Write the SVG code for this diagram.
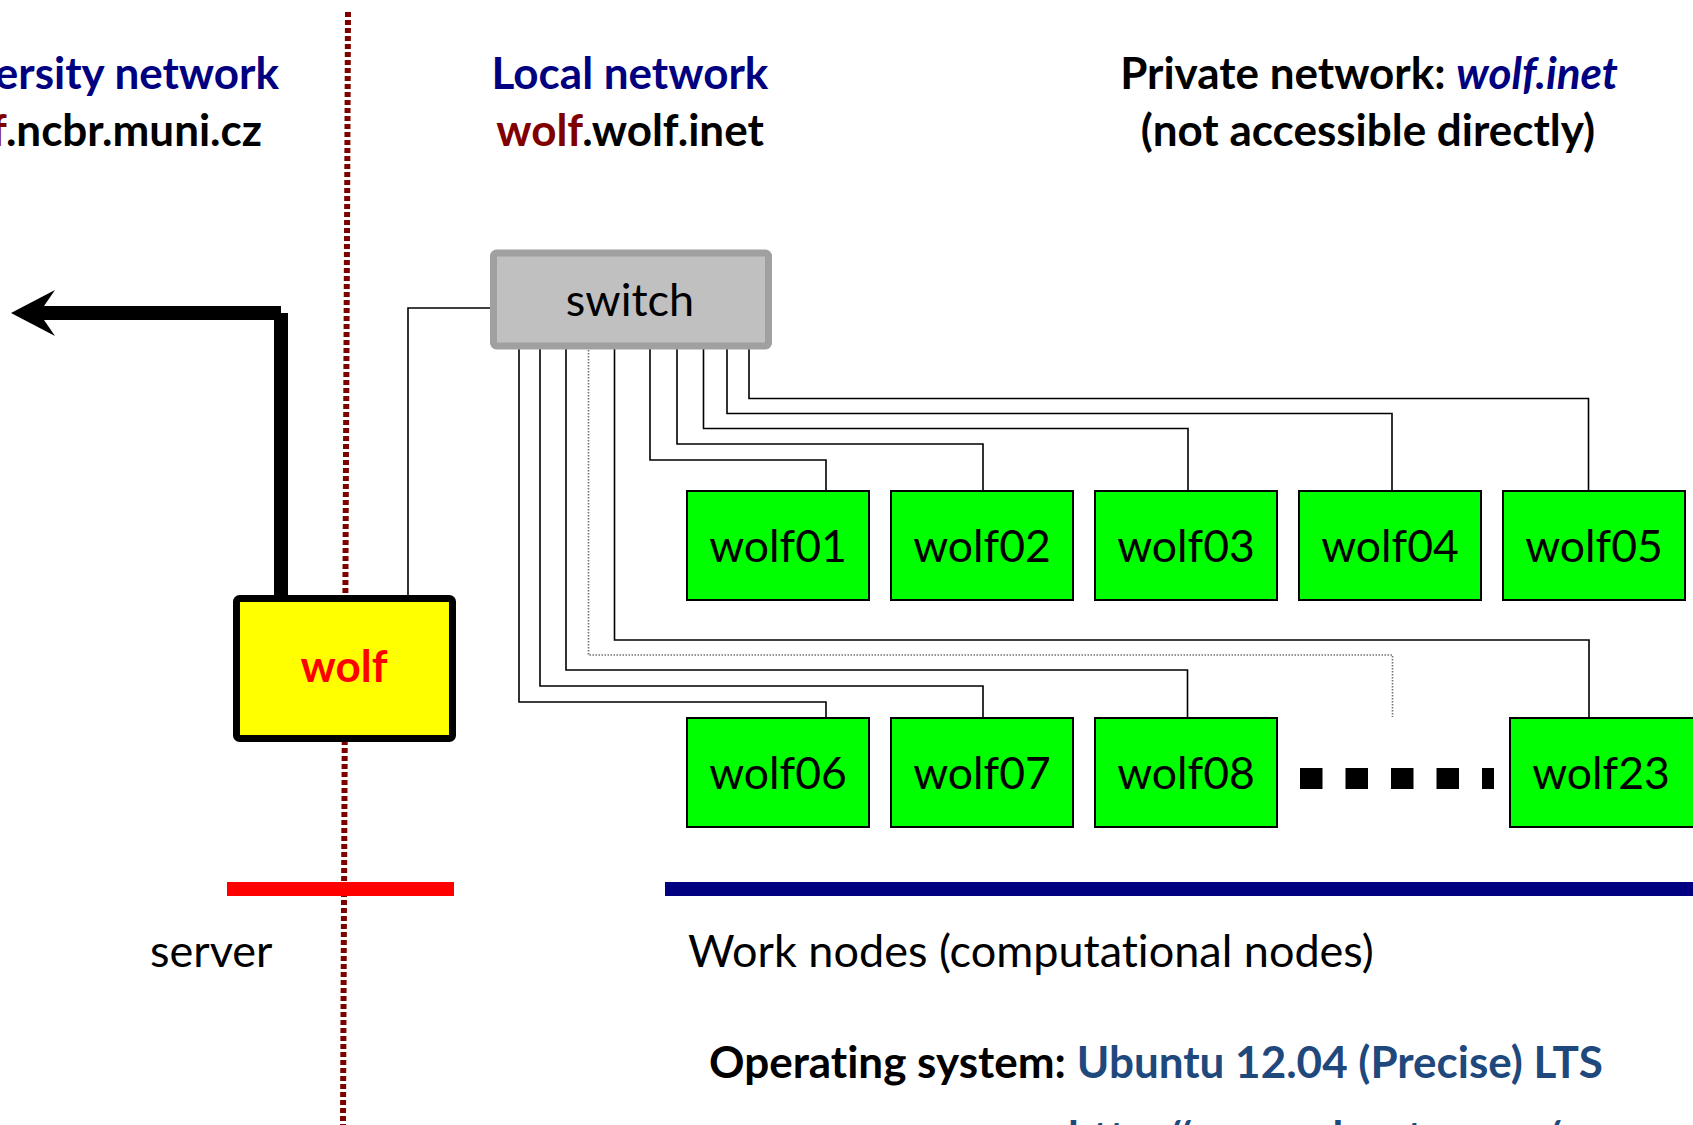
<svg xmlns="http://www.w3.org/2000/svg" width="1693" height="1125" viewBox="0 0 1693 1125">
<style>
text{font-family:Lato,"Liberation Sans",sans-serif;font-size:44px;font-variant-ligatures:none}
.r{font-size:45px}
.b{font-weight:bold}
.navy{fill:#000080}
.maroon{fill:#800000}
.blue{fill:#1F497D}
.node rect{fill:#00ff00;stroke:#000;stroke-width:2}
.node text{text-anchor:middle;fill:#000;font-size:44.5px}
.conn path{fill:none;stroke:#000;stroke-width:1.6}
.conn path.dot{stroke:#707070;stroke-dasharray:1.5 1.5}
</style>
<rect width="1693" height="1125" fill="#fff"/>
<line x1="348" y1="12" x2="343" y2="1125" stroke="#800000" stroke-width="6" stroke-dasharray="5 3"/>
<g id="titles">
<text class="b navy" x="279" y="89" text-anchor="end">University network</text>
<text class="b" x="262" y="146" text-anchor="end"><tspan class="maroon">wolf</tspan>.ncbr.muni.cz</text>
<text class="b navy" x="630" y="89" text-anchor="middle">Local network</text>
<text class="b" x="630" y="146" text-anchor="middle"><tspan class="maroon">wolf</tspan>.wolf.inet</text>
<text class="b" x="1369" y="89" text-anchor="middle" font-size="45.8">Private network: <tspan class="navy" font-style="italic">wolf.inet</tspan></text>
<text class="b" x="1368" y="146" text-anchor="middle" font-size="45">(not accessible directly)</text>
</g>
<g id="connectors" class="conn">
<path d="M491,308 H408 V596"/>
<path d="M650,347 V460 H826 V491"/>
<path d="M677,347 V444 H983 V491"/>
<path d="M703.5,347 V428.5 H1188 V491"/>
<path d="M727,347 V413.5 H1392 V491"/>
<path d="M749,347 V398.5 H1588.5 V491"/>
<path d="M519,347 V702 H826 V718"/>
<path d="M540,347 V686 H983 V718"/>
<path d="M566,347 V670 H1187.5 V718"/>
<path class="dot" d="M588.5,347 V655 H1392.5 V717"/>
<path d="M614.5,347 V640 H1589 V718"/>
</g>
<g id="uplink">
<line x1="281" y1="313" x2="281" y2="596" stroke="#000" stroke-width="14"/>
<line x1="281" y1="313" x2="42" y2="313" stroke="#000" stroke-width="14"/>
<polygon points="11,313 55,290 44,306 44,320 55,336" fill="#000"/>
</g>
<g id="switch">
<rect x="493.5" y="253" width="275" height="93" rx="3" fill="#C0C0C0" stroke="#A0A0A0" stroke-width="7"/>
<text class="r" x="630" y="316" text-anchor="middle">switch</text>
</g>
<g id="wolf">
<rect x="236.5" y="598.5" width="216" height="140" rx="3" fill="#ffff00" stroke="#000" stroke-width="7"/>
<text class="b" x="344" y="682" text-anchor="middle" fill="#ff0000">wolf</text>
</g>
<g id="wolf01" class="node"><rect x="687" y="491" width="182" height="109"/><text x="778" y="562">wolf01</text></g>
<g id="wolf02" class="node"><rect x="891" y="491" width="182" height="109"/><text x="982" y="562">wolf02</text></g>
<g id="wolf03" class="node"><rect x="1095" y="491" width="182" height="109"/><text x="1186" y="562">wolf03</text></g>
<g id="wolf04" class="node"><rect x="1299" y="491" width="182" height="109"/><text x="1390" y="562">wolf04</text></g>
<g id="wolf05" class="node"><rect x="1503" y="491" width="182" height="109"/><text x="1594" y="562">wolf05</text></g>
<g id="wolf06" class="node"><rect x="687" y="718" width="182" height="109"/><text x="778" y="789">wolf06</text></g>
<g id="wolf07" class="node"><rect x="891" y="718" width="182" height="109"/><text x="982" y="789">wolf07</text></g>
<g id="wolf08" class="node"><rect x="1095" y="718" width="182" height="109"/><text x="1186" y="789">wolf08</text></g>
<g id="wolf23" class="node"><rect x="1510" y="718" width="184" height="109"/><text x="1601" y="789">wolf23</text></g>
<g id="ellipsis" fill="#000">
<rect x="1300" y="768" width="22.5" height="21"/>
<rect x="1345.5" y="768" width="22.5" height="21"/>
<rect x="1391" y="768" width="22.5" height="21"/>
<rect x="1436.5" y="768" width="22.5" height="21"/>
<rect x="1482" y="768" width="12" height="21"/>
</g>
<g id="bars">
<rect x="227" y="882" width="227" height="14" fill="#ff0000"/>
<rect x="665" y="882" width="1028" height="14" fill="#000080"/>
</g>
<g id="labels">
<text class="r" x="150" y="967">server</text>
<text class="r" x="688" y="967">Work nodes (computational nodes)</text>
<text class="b" x="709" y="1078">Operating system: <tspan class="blue">Ubuntu 12.04 (Precise) LTS</tspan></text>
<text class="b blue" x="1068" y="1153">http://www.ubuntu.com/</text>
</g>
</svg>
